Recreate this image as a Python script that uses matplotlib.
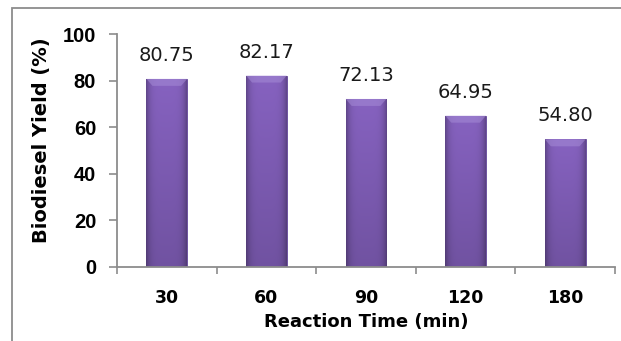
import matplotlib
matplotlib.use("Agg")
import matplotlib.pyplot as plt
import numpy as np
from matplotlib.patches import Rectangle

# reaction time vs biodiesel yield
times = ["30", "60", "90", "120", "180"]
yields = [80.75, 82.17, 72.13, 64.95, 54.80]
yticks = [0, 20, 40, 60, 80, 100]

fig = plt.figure(figsize=(6.21, 3.41), dpi=100)
fig.patch.set_facecolor("white")

# outer frame (runs off the right and bottom edges)
fig.add_artist(Rectangle((12 / 621, -0.05), 1.2, 1 - 8 / 341 + 0.05,
                         transform=fig.transFigure, fill=False,
                         edgecolor="#8c8c8c", linewidth=1.3))

ax = fig.add_axes([117 / 621, 1 - 267 / 341, 498 / 621, 233 / 341])
x = np.arange(len(times))
bars = ax.bar(x, yields, width=0.41, color="#7455a8", edgecolor="#64489a",
              linewidth=0.6, zorder=2)

# shaded fill: lighter in the middle, darker towards edges and bottom
nx, ny = 60, 120
gx = np.linspace(-1, 1, nx)
gy = np.linspace(0, 1, ny)
side = 1 - 0.28 * np.abs(gx) ** 5
vert = 0.84 + 0.16 * gy
shade = np.outer(vert, side)
top = np.array([0x86, 0x62, 0xc0]) / 255
img = shade[..., None] * top[None, None, :]
img = np.clip(img, 0, 1)
for b in bars:
    x0, w, h = b.get_x(), b.get_width(), b.get_height()
    im = ax.imshow(img, extent=(x0, x0 + w, 0, h), origin="lower",
                   aspect="auto", zorder=2.1, interpolation="bilinear")
    im.set_clip_path(b)
    # light bevel along the top edge
    ax.fill([x0, x0 + w, x0 + w * 0.85, x0 + w * 0.15],
            [h, h, h - 3.0, h - 3.0], color="#a58bd6", alpha=0.55,
            zorder=2.2, linewidth=0)
    ax.text(x0 + w / 2, h + 6, f"{h:.2f}", ha="center", va="bottom",
            fontsize=14, family="DejaVu Sans", color="#1a1a1a")

ax.set_xlim(-0.5, len(times) - 0.5)
ax.set_ylim(0, 100)
ax.set_yticks(yticks)
ax.set_yticklabels([str(t) for t in yticks], fontsize=14.5, fontweight="bold",
                   family="Liberation Sans")
ax.set_xticks(x)
ax.set_xticklabels(times, fontsize=12.5, fontweight="bold",
                   family="DejaVu Sans")
ax.set_xticks(np.arange(len(times) + 1) - 0.5, minor=True)
ax.tick_params(axis="x", which="major", length=0, pad=16)
ax.tick_params(axis="x", which="minor", length=5, direction="out",
               color="#8c8c8c", width=1.2)
ax.tick_params(axis="y", length=6, direction="out", color="#8c8c8c",
               width=1.2, pad=9)

for s in ["top", "right"]:
    ax.spines[s].set_visible(False)
for s in ["left", "bottom"]:
    ax.spines[s].set_color("#8c8c8c")
    ax.spines[s].set_linewidth(1.3)

ax.set_ylabel("Biodiesel Yield (%)", fontsize=14, fontweight="bold",
              family="DejaVu Sans")
ax.yaxis.set_label_coords(-66 / 498, 0.545)
ax.set_xlabel("Reaction Time (min)", fontsize=13, fontweight="bold",
              family="DejaVu Sans", labelpad=4)

fig.savefig("out.png", dpi=100, facecolor="white")
